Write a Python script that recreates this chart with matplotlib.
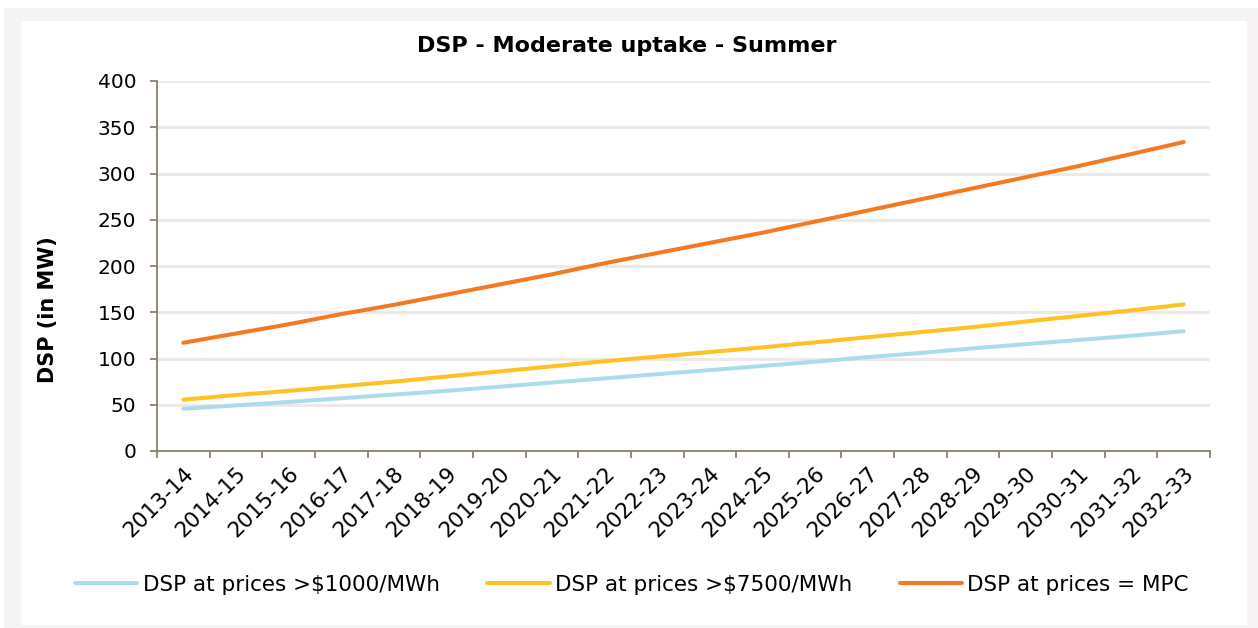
import matplotlib
matplotlib.use("Agg")
import matplotlib.pyplot as plt
from matplotlib.patches import Rectangle
import numpy as np

categories = ["2013-14", "2014-15", "2015-16", "2016-17", "2017-18", "2018-19",
              "2019-20", "2020-21", "2021-22", "2022-23", "2023-24", "2024-25",
              "2025-26", "2026-27", "2027-28", "2028-29", "2029-30", "2030-31",
              "2031-32", "2032-33"]
dsp_1000 = [45.7, 49.3, 53, 57, 61, 65, 69.5, 74, 78.5, 83, 87.5, 92, 96.5, 101.5,
            106, 111, 115.5, 120, 124.5, 129.5]
dsp_7500 = [55.5, 60.5, 65, 70, 75, 80.5, 86, 91.5, 97, 102, 107, 112, 117.5,
            123, 128.5, 134, 140, 146, 152, 158.5]
dsp_mpc = [117, 127, 137, 148, 158, 169, 180, 191, 203, 214, 225, 236, 248, 260,
           272, 284, 296, 308, 321, 334]
series_labels = ["DSP at prices >$1000/MWh", "DSP at prices >$7500/MWh",
                 "DSP at prices = MPC"]
series_colors = ["#abdcec", "#ffc222", "#f47920"]
title = "DSP - Moderate uptake - Summer"
ylabel = "DSP (in MW)"

plt.rcParams['font.family'] = ['DejaVu Sans']

W, H = 1258, 628
fig = plt.figure(figsize=(W / 100, H / 100), dpi=100)
fig.patch.set_facecolor("white")
# frame
fig.patches.append(Rectangle((4 / W, 0), (W - 4) / W, (H - 8) / H,
                             transform=fig.transFigure, facecolor="#f5f3f4",
                             edgecolor="none", zorder=-20))
fig.patches.append(Rectangle((21 / W, (H - 625) / H), (1247 - 21) / W, (625 - 21) / H,
                             transform=fig.transFigure, facecolor="white",
                             edgecolor="none", zorder=-19))

left, right, top, bottom = 157, 1210, 81, 451
ax = fig.add_axes([left / W, (H - bottom) / H, (right - left) / W, (bottom - top) / H])
ax.set_facecolor("none")
ax.set_zorder(5)

x = np.arange(len(categories))
for vals, lab, col in zip([dsp_1000, dsp_7500, dsp_mpc], series_labels, series_colors):
    ax.plot(x, vals, color=col, lw=2.9, label=lab, solid_capstyle="round", zorder=3)

ax.set_xlim(-0.5, len(categories) - 0.5)
ax.set_ylim(0, 400)
ax.set_yticks(np.arange(0, 401, 50))
ax.yaxis.grid(True, color="#ece9e6", lw=2.2, zorder=0)
ax.set_axisbelow(True)

axis_col = "#8b8070"
for s in ["top", "right"]:
    ax.spines[s].set_visible(False)
for s in ["left", "bottom"]:
    ax.spines[s].set_color(axis_col)
    ax.spines[s].set_linewidth(1.3)

ax.set_xticks(x)
ax.set_xticklabels(categories, rotation=45, ha="right", va="top",
                   rotation_mode="anchor")
ax.set_xticks(np.arange(-0.5, len(categories) + 0.5, 1), minor=True)
ax.tick_params(axis="x", which="major", length=0, pad=9, labelsize=15.5)
ax.tick_params(axis="x", which="minor", length=5, width=1.3, color=axis_col)
ax.tick_params(axis="y", length=5, width=1.3, color=axis_col, pad=10, labelsize=14.5)

fig.text(627 / W, 1 - 46 / H, title, ha="center", va="center", fontsize=16,
         fontweight="bold")
fig.text(48 / W, 1 - 310 / H, ylabel, ha="center", va="center", rotation=90,
         fontsize=15, fontweight="bold")

fig.legend(loc="center", bbox_to_anchor=(632 / W, 1 - 585 / H), ncol=3,
           frameon=False, fontsize=15.5, handlelength=2.9, handletextpad=0.25,
           columnspacing=2.2)

fig.savefig("out.png", dpi=100, facecolor=fig.get_facecolor())
